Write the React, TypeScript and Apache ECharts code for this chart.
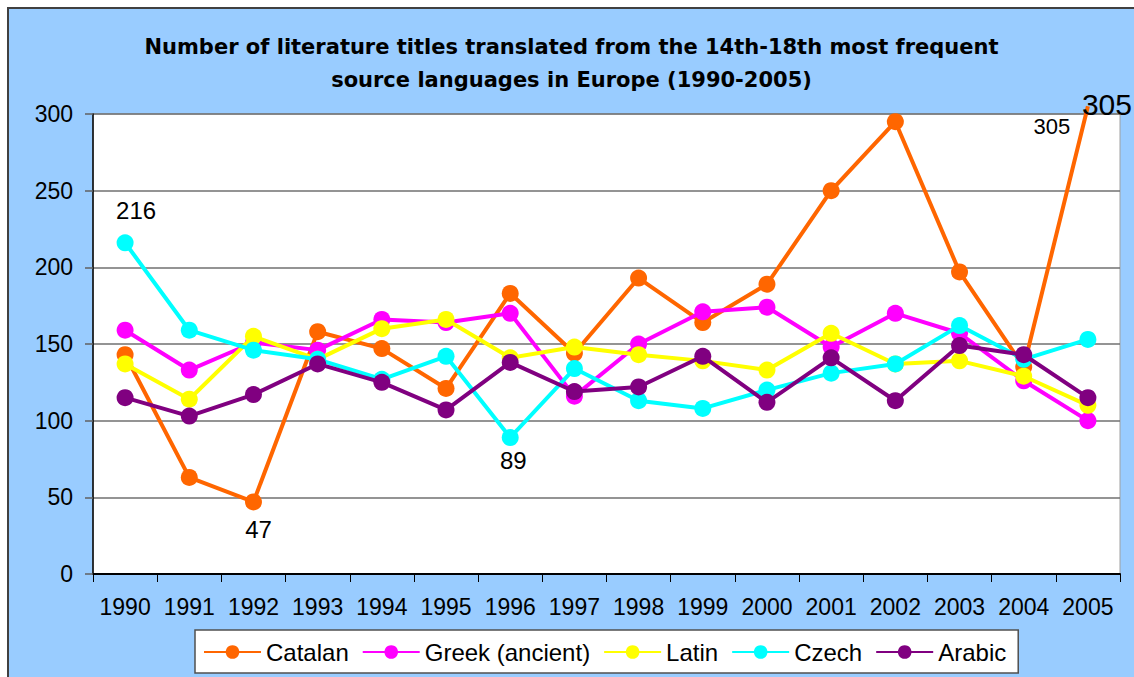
import React, { useEffect, useRef } from 'react';
import * as echarts from 'echarts';

const FONT = '"Liberation Sans", Arial, sans-serif';
const TITLE_FONT = '"DejaVu Sans", "Liberation Sans", Arial, sans-serif';

const years = ['1990', '1991', '1992', '1993', '1994', '1995', '1996', '1997', '1998', '1999', '2000', '2001', '2002', '2003', '2004', '2005'];
const catalan = [143, 63, 47, 158, 147, 121, 183, 144, 193, 164, 189, 250, 295, 197, 135, 305];
const greek = [159, 133, 151, 146, 166, 164, 170, 116, 150, 171, 174, 148, 170, 157, 126, 100];
const latin = [137, 114, 155, 140, 160, 166, 141, 148, 143, 139, 133, 157, 137, 139, 129, 110];
const czech = [216, 159, 146, 140, 127, 142, 89, 134, 113, 108, 120, 131, 137, 162, 140, 153];
const arabic = [115, 103, 117, 137, 125, 107, 138, 119, 122, 142, 112, 141, 113, 149, 143, 115];

const seriesNames = ['Catalan', 'Greek (ancient)', 'Latin', 'Czech', 'Arabic'];
const seriesColors = ['#FF6600', '#FF00FF', '#FFFF00', '#00FFFF', '#800080'];
const seriesValues = [catalan, greek, latin, czech, arabic];

const yMin = 0;
const yMax = 300;
const yStep = 50;

// labelled points: [seriesIndex, categoryIndex, offsetX, offsetY, fontSize, hideSymbol]
const labelledPoints: [number, number, number, number, number, boolean][] = [
  [3, 0, 11, -32, 24, false],
  [0, 2, 5, 28, 24, false],
  [3, 6, 3, 23, 24, false],
  [0, 15, 19, -2, 30, true],
];

export default function App() {
  const ref = useRef<HTMLDivElement>(null);
  useEffect(() => {
    const chart = echarts.init(ref.current!, null, { renderer: 'svg' });
    const series: any[] = seriesNames.map((name, si) => {
      const data = seriesValues[si].map((v, i) => {
        const lp = labelledPoints.find((p) => p[0] === si && p[1] === i);
        if (!lp) return v;
        const item: any = {
          value: v,
          label: {
            show: true,
            position: 'inside',
            offset: [lp[2], lp[3]],
            fontSize: lp[4],
            color: '#000',
            fontFamily: FONT,
          },
        };
        if (lp[5]) item.symbolSize = 0;
        return item;
      });
      return {
        name,
        type: 'line',
        data,
        color: seriesColors[si],
        symbol: 'circle',
        symbolSize: 17,
        showAllSymbol: true,
        clip: false,
        lineStyle: { width: 4, color: seriesColors[si] },
        itemStyle: { color: seriesColors[si] },
        emphasis: { disabled: true },
        z: 2 + si,
      };
    });
    // second annotation of Catalan's last value
    const last = catalan.length - 1;
    series.push({
      name: 'catalan-note',
      type: 'line',
      data: catalan.map((v, i) => (i === last ? v : '-')),
      symbol: 'circle',
      symbolSize: 0,
      showSymbol: true,
      showAllSymbol: true,
      clip: false,
      silent: true,
      color: seriesColors[0],
      lineStyle: { width: 0 },
      emphasis: { disabled: true },
      label: {
        show: true,
        position: 'inside',
        offset: [-36, 20],
        fontSize: 22,
        color: '#000',
        fontFamily: FONT,
      },
      z: 10,
    });

    const option: any = {
      animation: false,
      backgroundColor: '#99CCFF',
      textStyle: { fontFamily: FONT },
      title: {
        text: 'Number of literature titles translated from the 14th-18th most frequent\nsource languages in Europe (1990-2005)',
        left: 'center',
        top: 21,
        padding: 0,
        textStyle: {
          fontSize: 21,
          fontWeight: 'bold',
          lineHeight: 33,
          color: '#000',
          fontFamily: TITLE_FONT,
        },
      },
      legend: {
        data: seriesNames,
        left: 186,
        top: 621,
        padding: [10, 12, 9, 8],
        itemGap: 13,
        itemWidth: 57,
        itemHeight: 17,
        backgroundColor: '#FFFFFF',
        borderColor: '#505050',
        borderWidth: 1.5,
        selectedMode: false,
        textStyle: { fontSize: 24, color: '#000', fontFamily: FONT },
      },
      grid: {
        left: 84,
        top: 105,
        right: 14,
        bottom: 103,
        show: true,
        backgroundColor: '#FFFFFF',
        borderColor: '#A0A0A0',
        borderWidth: 1,
      },
      xAxis: {
        type: 'category',
        data: years,
        boundaryGap: true,
        axisLine: { show: true, lineStyle: { color: '#000', width: 2 } },
        axisTick: { show: true, length: 8, lineStyle: { color: '#000', width: 1 } },
        axisLabel: { interval: 0, margin: 21, fontSize: 23, color: '#000', fontFamily: FONT },
        splitLine: { show: false },
      },
      yAxis: {
        type: 'value',
        min: yMin,
        max: yMax,
        interval: yStep,
        axisLine: { show: true, lineStyle: { color: '#000', width: 1.5 } },
        axisTick: { show: true, length: 8, lineStyle: { color: '#606060', width: 1.5 } },
        axisLabel: { margin: 20, fontSize: 23, color: '#000', fontFamily: FONT },
        splitLine: { show: true, lineStyle: { color: '#707070', width: 1.5 } },
      },
      series,
    };
    chart.setOption(option);
    return () => chart.dispose();
  }, []);
  return (
    <div
      ref={ref}
      style={{
        position: 'fixed',
        left: 7,
        top: 7,
        width: 1125,
        height: 668,
        borderTop: '2px solid #404040',
        borderLeft: '2px solid #404040',
        background: '#99CCFF',
      }}
    />
  );
}
